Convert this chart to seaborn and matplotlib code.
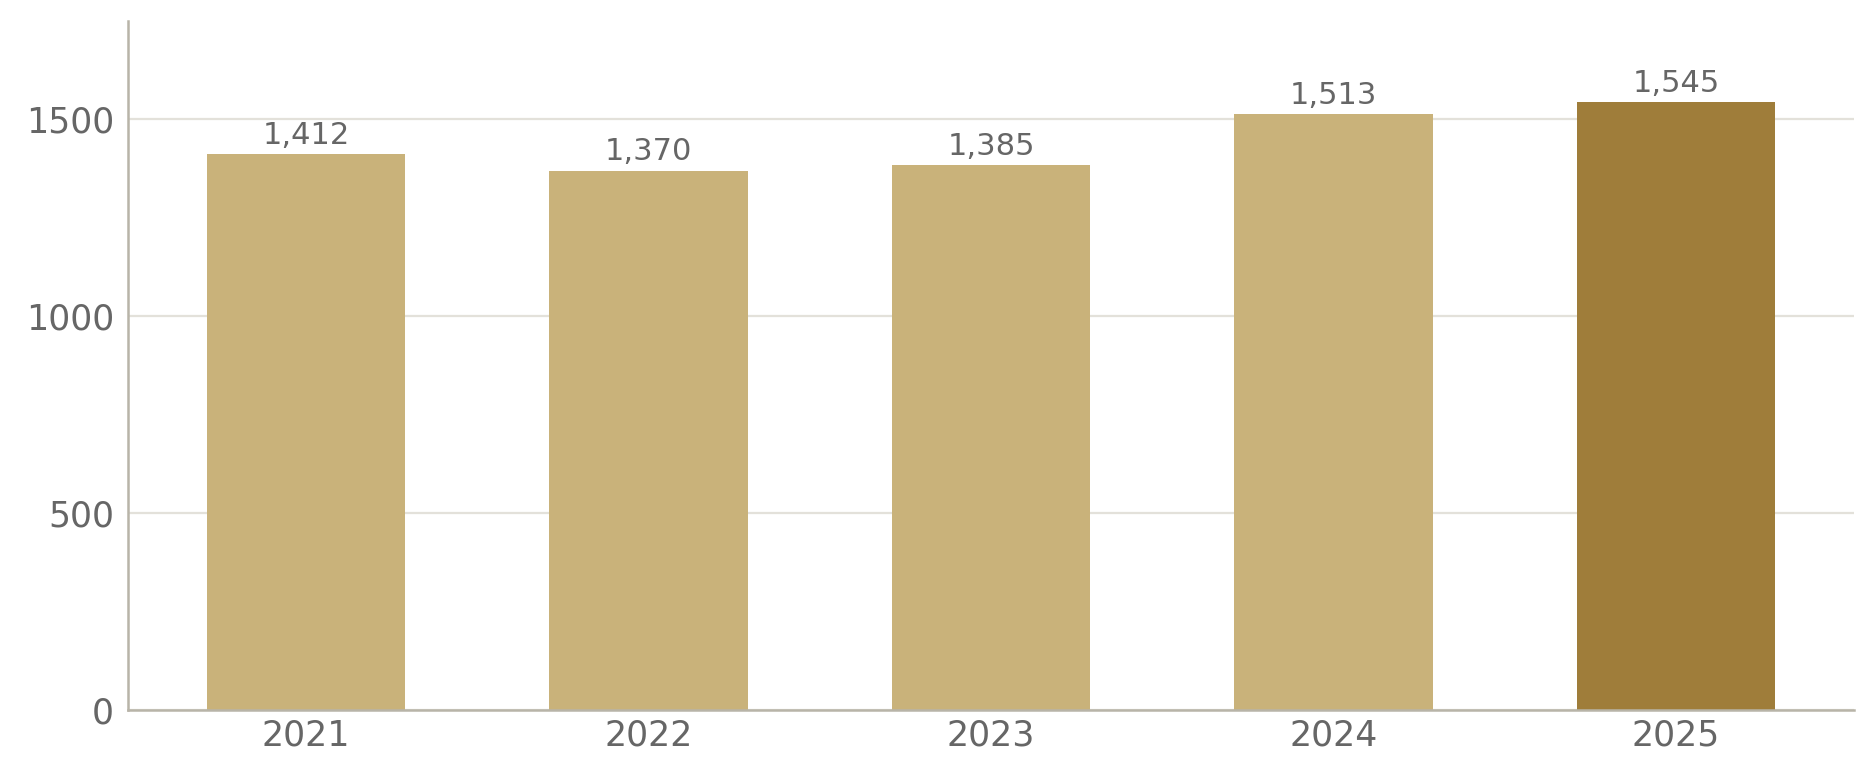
import matplotlib
matplotlib.use("Agg")
import matplotlib.pyplot as plt
import seaborn as sns
import pandas as pd

years = ["2021", "2022", "2023", "2024", "2025"]
values = [1412, 1370, 1385, 1513, 1545]
bar_colors = ["#C9B27A", "#C9B27A", "#C9B27A", "#C9B27A", "#9F7D3A"]
yticks = [0, 500, 1000, 1500]

sns.set_theme(style="white")
plt.rcParams['font.family'] = ['DejaVu Sans']

df = pd.DataFrame({"year": years, "value": values})

fig = plt.figure(figsize=(18.75, 7.8), dpi=100)
ax = fig.add_axes([0.0683, 0.0897, 0.9205, 0.8833])

sns.barplot(data=df, x="year", y="value", hue="year", palette=bar_colors,
            width=0.58, legend=False, ax=ax, saturation=1, zorder=3,
            linewidth=0, edgecolor="none")

for cont in ax.containers:
    ax.bar_label(cont, labels=[f"{int(round(v)):,}" for v in cont.datavalues],
                 padding=3, fontsize=22, color="#666666")

ax.set_xlim(-0.52, 4.52)
ax.set_ylim(0, 1750)
ax.set_yticks(yticks)
ax.set_yticklabels([str(t) for t in yticks])
ax.set_xlabel("")
ax.set_ylabel("")

ax.yaxis.grid(True, color="#E3E1DA", linewidth=1.6, zorder=0)
ax.xaxis.grid(False)
ax.set_axisbelow(True)

for s in ["top", "right"]:
    ax.spines[s].set_visible(False)
for s in ["left", "bottom"]:
    ax.spines[s].set_color("#B8B4A8")
    ax.spines[s].set_linewidth(1.8)
    ax.spines[s].set_zorder(4)

ax.tick_params(axis="x", length=0, pad=6, labelsize=25, labelcolor="#666666")
ax.tick_params(axis="y", length=0, pad=10, labelsize=25, labelcolor="#666666")

fig.savefig("out.png", dpi=100, facecolor="white")
